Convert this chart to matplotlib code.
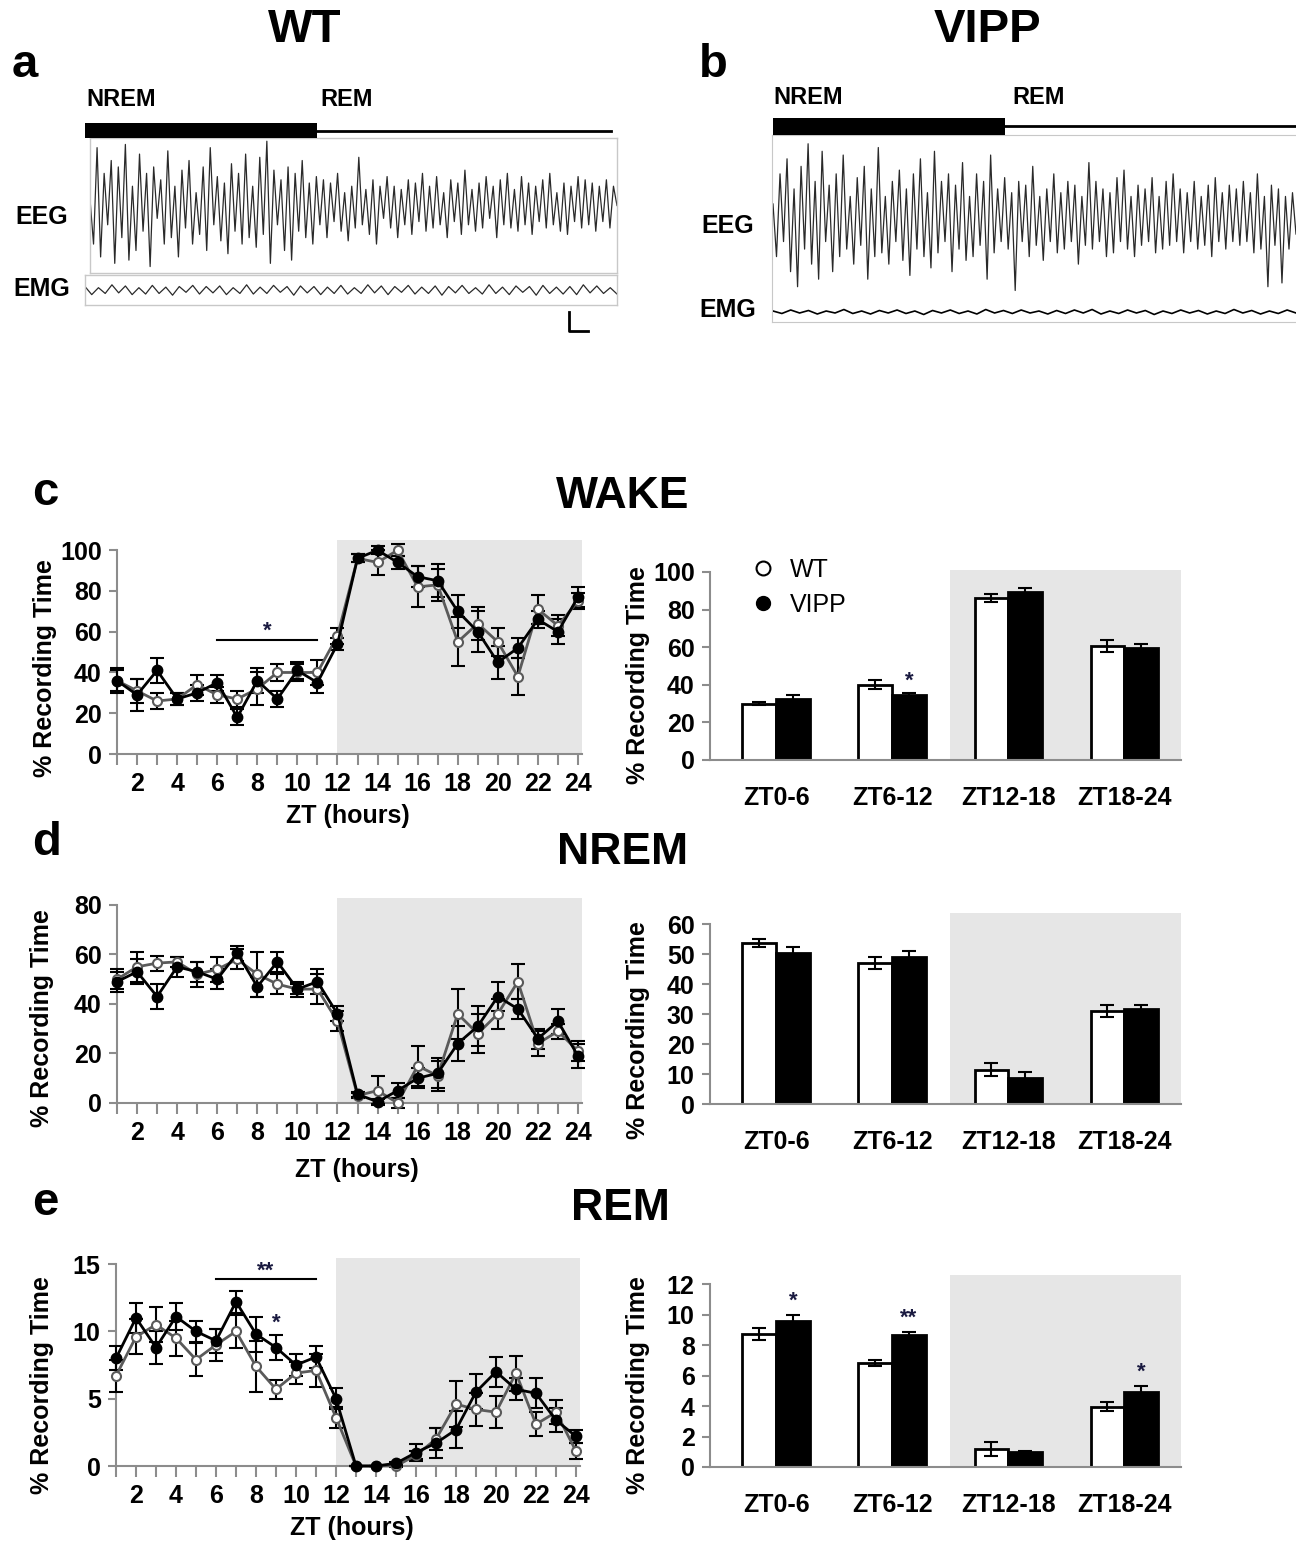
import numpy as np
import matplotlib.pyplot as plt
from matplotlib.lines import Line2D
from matplotlib.patches import Rectangle

plt.rcParams['font.family'] = ['Liberation Sans', 'DejaVu Sans']
plt.rcParams['font.weight'] = 'bold'

W, H = 1296, 1545

# ---------------- data ----------------
zt = list(range(1, 25))
zt_labels = [str(h) if h % 2 == 0 else '' for h in zt]
blocks = ['ZT0-6', 'ZT6-12', 'ZT12-18', 'ZT18-24']

# WAKE (% recording time), hourly
wake_wt = [36, 31, 26, 27, 34, 29, 27, 32, 40, 40, 40, 58, 96, 94, 100, 82, 83, 55, 64, 55, 38, 71, 63, 75]
wake_wt_err = [5, 6, 4, 3, 5, 4, 4, 8, 4, 4, 6, 4, 2, 6, 3, 10, 8, 12, 8, 7, 9, 7, 5, 4]
wake_vipp = [36, 29, 41, 27, 30, 35, 18, 36, 27, 41, 35, 54, 96, 100, 94, 87, 85, 70, 60, 45, 52, 66, 60, 77]
wake_vipp_err = [6, 8, 6, 3, 4, 4, 4, 6, 4, 4, 5, 3, 2, 2, 3, 5, 8, 8, 10, 8, 5, 4, 6, 5]

# NREM
nrem_wt = [50, 55, 56.5, 57, 52, 54, 58, 52, 48, 46, 46, 33, 3, 5, 0, 15, 11, 36, 28, 36, 49, 24, 29, 21]
nrem_wt_err = [4, 6, 3, 2, 5, 5, 4, 9, 4, 2, 6, 4, 1, 6, 2, 8, 6, 10, 8, 6, 7, 5, 3, 4]
nrem_vipp = [49, 53, 43, 55, 53, 50, 60.5, 47, 57, 46, 49, 36, 3.5, 0.5, 5, 10, 12, 24, 31, 43, 38, 26, 33, 19]
nrem_vipp_err = [4, 5, 5, 4, 4, 4, 3, 4, 4, 3, 5, 3, 1, 1, 3, 4, 6, 7, 8, 6, 4, 4, 5, 5]

# REM
rem_wt = [6.7, 9.6, 10.5, 9.5, 7.9, 9.0, 10.0, 7.4, 5.7, 6.9, 7.1, 3.6, 0, 0, 0, 0.8, 2.0, 4.6, 4.2, 4.0, 6.9, 3.1, 4.0, 1.1]
rem_wt_err = [1.2, 1.3, 1.3, 1.3, 1.2, 1.2, 1.2, 1.9, 0.7, 0.8, 1.2, 0.8, 0, 0, 0.1, 0.3, 0.8, 1.7, 1.2, 1.2, 1.3, 0.9, 0.9, 0.6]
rem_vipp = [8.0, 11.0, 8.8, 11.1, 10.0, 9.3, 12.2, 9.8, 8.8, 7.5, 8.1, 5.0, 0, 0, 0.2, 1.0, 1.7, 2.7, 5.5, 7.0, 5.7, 5.4, 3.4, 2.2]
rem_vipp_err = [0.9, 1.1, 1.2, 1.0, 0.8, 0.9, 0.8, 1.3, 0.9, 0.8, 0.8, 0.8, 0, 0, 0.1, 0.6, 1.1, 1.4, 1.3, 1.1, 0.8, 1.1, 0.9, 0.5]

# 6-h blocks
wake_blk_wt = [30, 40, 86, 60.6]
wake_blk_wt_err = [1, 2.5, 2, 3]
wake_blk_vipp = [32.5, 34.8, 89.3, 59.5]
wake_blk_vipp_err = [2, 0.6, 2, 2]

nrem_blk_wt = [53.7, 46.9, 11.5, 30.9]
nrem_blk_wt_err = [1.2, 2, 2.2, 2]
nrem_blk_vipp = [50.5, 48.9, 8.8, 31.8]
nrem_blk_vipp_err = [1.8, 2, 2, 1.2]

rem_blk_wt = [8.75, 6.8, 1.2, 3.96]
rem_blk_wt_err = [0.4, 0.2, 0.45, 0.3]
rem_blk_vipp = [9.58, 8.63, 0.97, 4.93]
rem_blk_vipp_err = [0.4, 0.25, 0.1, 0.4]

# example traces (estimated, normalised amplitude)
eeg_wt = [0.1, -0.6, 0.9, -0.8, 0.5, -0.3, 0.7, -0.9, 0.6, -0.5, 0.95, -0.85, 0.3, -0.7, 0.8, -0.4,
          0.5, -0.95, 0.6, -0.2, 0.4, -0.6, 0.85, -0.5, 0.3, -0.8, 0.55, -0.35, 0.7, -0.6, 0.2, -0.45,
          0.6, -0.7, 0.9, -0.3, 0.45, -0.55, 0.35, -0.75, 0.65, -0.4, 0.5, -0.6, 0.8, -0.5, 0.3, -0.65,
          0.75, -0.45, 1.0, -0.9, 0.55, -0.3, 0.4, -0.7, 0.6, -0.85, 0.5, -0.4, 0.7, -0.5, 0.35, -0.6, 0.45,
          -0.3, 0.4, -0.5, 0.35, -0.25, 0.5, -0.4, 0.2, -0.55, 0.3, -0.35, 0.75, -0.3, 0.25, -0.45, 0.4,
          -0.6, 0.3, -0.2, 0.45, -0.35, 0.3, -0.5, 0.25, -0.3, 0.4, -0.45, 0.35, -0.25, 0.5, -0.4, 0.3,
          -0.35, 0.45, -0.3, 0.2, -0.5, 0.4, -0.25, 0.35, -0.45, 0.55, -0.3, 0.25, -0.4, 0.35, -0.35, 0.45,
          -0.2, 0.3, -0.5, 0.4, -0.3, 0.5, -0.35, 0.25, -0.4, 0.45, -0.3, 0.35, -0.45, 0.3, -0.25, 0.4,
          -0.35, 0.5, -0.3, 0.2, -0.4, 0.35, -0.45, 0.3, -0.25, 0.45, -0.35, 0.4, -0.3, 0.35, -0.4, 0.3,
          -0.25, 0.4, -0.35, 0.3, 0.0]
emg_wt = [0.3, -0.4, 0.2, -0.3, 0.45, -0.25, 0.35, -0.4, 0.2, -0.35, 0.4, -0.3, 0.25, -0.45, 0.3, -0.2,
          0.4, -0.35, 0.3, -0.25, 0.35, -0.4, 0.2, -0.3, 0.45, -0.35, 0.25, -0.3, 0.4, -0.2, 0.3, -0.45,
          0.35, -0.25, 0.3, -0.4, 0.25, -0.3, 0.4, -0.35, 0.2, -0.3, 0.45, -0.25, 0.35, -0.4, 0.3, -0.2,
          0.4, -0.35, 0.25, -0.3, 0.35, -0.45, 0.3, -0.25, 0.4, -0.3, 0.2, -0.35, 0.45, -0.3, 0.25, -0.4,
          0.35, -0.2, 0.3, -0.45, 0.4, -0.3, 0.25, -0.35, 0.3, -0.4, 0.45, -0.25, 0.35, -0.3, 0.2, -0.35]
eeg_vipp = [0.2, -0.5, 0.6, -0.3, 0.8, -0.7, 0.4, -0.9, 0.7, -0.4, 1.0, -0.6, 0.5, -0.8, 0.9, -0.3,
            0.45, -0.7, 0.6, -0.5, 0.85, -0.4, 0.3, -0.6, 0.55, -0.35, 0.7, -0.8, 0.4, -0.5, 0.95, -0.45,
            0.3, -0.6, 0.5, -0.3, 0.65, -0.55, 0.4, -0.75, 0.6, -0.4, 0.8, -0.5, 0.35, -0.65, 0.9, -0.45,
            0.5, -0.3, 0.6, -0.7, 0.45, -0.4, 0.75, -0.55, 0.3, -0.5, 0.6, -0.35, 0.5, -0.8, 0.85, -0.45, 0.4, -0.3,
            0.55, -0.4, 0.35, -0.95, 0.5, -0.3, 0.45, -0.5, 0.7, -0.35, 0.3, -0.55, 0.4, -0.3, 0.6, -0.45,
            0.35, -0.4, 0.5, -0.3, 0.45, -0.6, 0.3, -0.35, 0.75, -0.4, 0.5, -0.3, 0.4, -0.5, 0.35, -0.45,
            0.55, -0.3, 0.65, -0.4, 0.3, -0.5, 0.45, -0.35, 0.4, -0.3, 0.55, -0.45, 0.3, -0.4, 0.5, -0.35,
            0.6, -0.3, 0.4, -0.45, 0.35, -0.3, 0.5, -0.4, 0.3, -0.35, 0.45, -0.5, 0.55, -0.3, 0.35, -0.4,
            0.45, -0.3, 0.4, -0.35, 0.5, -0.3, 0.35, -0.45, 0.6, -0.4, 0.3, -0.9, 0.45, -0.35, 0.4, -0.85,
            0.3, -0.4, 0.35, -0.2]
emg_vipp = [0.1, -0.15, 0.2, -0.1, 0.15, -0.2, 0.1, -0.1, 0.25, -0.15, 0.1, -0.2, 0.15, -0.1, 0.2, -0.15,
            0.1, -0.25, 0.15, -0.1, 0.2, -0.15, 0.1, -0.2, 0.25, -0.1, 0.15, -0.15, 0.2, -0.1, 0.1, -0.2,
            0.15, -0.15, 0.2, -0.1, 0.25, -0.2, 0.1, -0.15, 0.2, -0.1, 0.15, -0.25, 0.1, -0.15, 0.2, -0.1,
            0.15, -0.2, 0.1, -0.15, 0.25, -0.1, 0.15, -0.2, 0.1, -0.15, 0.2, -0.1]

# ---------------- figure ----------------
fig = plt.figure(figsize=(W / 100, H / 100), dpi=100)
ax0 = fig.add_axes([0, 0, 1, 1], zorder=10)
ax0.set_xlim(0, W)
ax0.set_ylim(H, 0)
ax0.axis('off')


def box(l, t, r, b):
    return [l / W, 1 - b / H, (r - l) / W, (b - t) / H]


def txt(x, y, s, size, **kw):
    ax0.text(x, y, s, fontsize=size, fontweight='bold', ha='center', va='center', **kw)


SPINE = '#8c8c8c'
SHADE = '#e6e6e6'
TICK = 18


def style_axes(ax, ytop_tick):
    for s in ['top', 'right']:
        ax.spines[s].set_visible(False)
    for s in ['left', 'bottom']:
        ax.spines[s].set_color(SPINE)
        ax.spines[s].set_linewidth(1.5)
    ax.spines['left'].set_bounds(0, ytop_tick)
    ax.tick_params(axis='y', colors=SPINE, length=6, width=1.5, labelsize=TICK, labelcolor='black', pad=5)
    ax.set_facecolor('none')


def line_panel(rect, wt, wt_err, vipp, vipp_err, ytop, yticks):
    ax = fig.add_axes(box(*rect))
    ax.axvspan(12, 24.2, color=SHADE, zorder=0, lw=0)
    for y, e, lc, fc, ms in [(wt, wt_err, '#5a5a5a', 'white', 6.5), (vipp, vipp_err, 'black', 'black', 7)]:
        cont = ax.errorbar(zt, y, yerr=e, color=lc, lw=2, marker='o', ms=ms, mfc=fc, mec=lc, mew=1.5,
                           ecolor='black', elinewidth=1.5, capsize=5, capthick=1.5, zorder=3)
        for ch in cont.get_children():
            ch.set_clip_on(False)
    ax.set_xlim(1, 24.2)
    ax.set_ylim(0, ytop)
    ax.set_yticks(yticks)
    ax.set_xticks(zt)
    ax.set_xticklabels(zt_labels)
    style_axes(ax, yticks[-1])
    ax.tick_params(axis='x', colors=SPINE, length=8, width=1.5, labelsize=TICK, labelcolor='black', pad=5)
    return ax


def bar_panel(rect, wt, wt_err, vipp, vipp_err, ytop, yticks):
    ax = fig.add_axes(box(*rect))
    x = np.arange(len(blocks))
    w = 0.29
    ax.axvspan(1.5, 3.49, color=SHADE, zorder=0, lw=0)
    ekw = dict(elinewidth=1.5, capthick=1.5, ecolor='black')
    ax.bar(x - w / 2, wt, w, yerr=wt_err, color='white', edgecolor='black', lw=2, capsize=5,
           error_kw=ekw, zorder=2)
    ax.bar(x + w / 2, vipp, w, yerr=vipp_err, color='black', edgecolor='black', lw=2, capsize=5,
           error_kw=ekw, zorder=2)
    ax.set_xlim(-0.57, 3.49)
    ax.set_ylim(0, ytop)
    ax.set_yticks(yticks)
    ax.set_xticks(x)
    ax.set_xticklabels(blocks)
    style_axes(ax, yticks[-1])
    ax.tick_params(axis='x', length=0, labelsize=TICK, pad=19)
    return ax, x + w / 2


# ---- c WAKE ----
axc = line_panel((117, 540, 582, 754), wake_wt, wake_wt_err, wake_vipp, wake_vipp_err, 105, [0, 20, 40, 60, 80, 100])
axc.plot([6, 11], [56, 56], color='black', lw=1.5)
axc.text(8.5, 60, '*', fontsize=16, ha='center', va='center', color='#1a1a40')
axcb, xv = bar_panel((710, 570, 1181, 760), wake_blk_wt, wake_blk_wt_err, wake_blk_vipp, wake_blk_vipp_err,
                     101, [0, 20, 40, 60, 80, 100])
axcb.text(xv[1], 42, '*', fontsize=16, ha='center', va='center', color='#1a1a40')
hnd = [Line2D([], [], ls='none', marker='o', ms=10, mfc='white', mec='black', mew=1.5),
       Line2D([], [], ls='none', marker='o', ms=10, mfc='black', mec='black')]
leg = axcb.legend(hnd, ['WT', 'VIPP'], loc='upper left', bbox_to_anchor=(0.085, 1.065), frameon=False,
                  prop={'size': 18, 'weight': 'normal'}, handlelength=1.0, handletextpad=0.6,
                  labelspacing=0.45, borderpad=0, borderaxespad=0)

# ---- d NREM ----
line_panel((117, 898, 582, 1103), nrem_wt, nrem_wt_err, nrem_vipp, nrem_vipp_err, 82.8, [0, 20, 40, 60, 80])
bar_panel((710, 913, 1181, 1104), nrem_blk_wt, nrem_blk_wt_err, nrem_blk_vipp, nrem_blk_vipp_err,
          63.7, [0, 10, 20, 30, 40, 50, 60])

# ---- e REM ----
axe = line_panel((116, 1258, 580, 1466), rem_wt, rem_wt_err, rem_vipp, rem_vipp_err, 15.45, [0, 5, 10, 15])
axe.plot([6, 11], [13.9, 13.9], color='black', lw=1.5)
axe.text(8.5, 14.5, '**', fontsize=16, ha='center', va='center', color='#1a1a40')
axe.text(9, 10.6, '*', fontsize=16, ha='center', va='center', color='#1a1a40')
axeb, xv = bar_panel((710, 1275, 1181, 1467), rem_blk_wt, rem_blk_wt_err, rem_blk_vipp, rem_blk_vipp_err,
                     12.6, [0, 2, 4, 6, 8, 10, 12])
for i, s in [(0, '*'), (1, '**'), (3, '*')]:
    axeb.text(xv[i], rem_blk_vipp[i] + rem_blk_vipp_err[i] + 0.9, s, fontsize=16, ha='center', va='center',
              color='#1a1a40')

# ---- panel texts ----
txt(623, 497, 'WAKE', 32)
txt(623, 853, 'NREM', 32)
txt(620, 1208, 'REM', 32)
txt(45, 493, 'c', 34)
txt(47, 843, 'd', 34)
txt(45, 1203, 'e', 34)
for (x, y) in [(45, 668), (638, 675), (42, 1018), (638, 1030), (42, 1385), (638, 1385)]:
    ax0.text(x, y, '% Recording Time', fontsize=18, fontweight='bold', rotation=90, ha='center', va='center')
for (x, y) in [(348, 816), (357, 1170), (352, 1528)]:
    txt(x, y, 'ZT (hours)', 18)

# ---- a / b example traces ----
txt(305, 30, 'WT', 34)
txt(987, 30, 'VIPP', 34)
txt(25, 65, 'a', 34)
txt(713, 65, 'b', 34)
ax0.text(86, 100, 'NREM', fontsize=17, fontweight='bold', ha='left', va='center')
ax0.text(320, 100, 'REM', fontsize=17, fontweight='bold', ha='left', va='center')
ax0.text(773, 98, 'NREM', fontsize=17, fontweight='bold', ha='left', va='center')
ax0.text(1012, 98, 'REM', fontsize=17, fontweight='bold', ha='left', va='center')
txt(42, 217, 'EEG', 18)
txt(42, 289, 'EMG', 18)
txt(728, 226, 'EEG', 18)
txt(728, 310, 'EMG', 18)

# hypnogram bars
ax0.add_patch(Rectangle((85, 123), 232, 15, color='black', lw=0))
ax0.plot([317, 611], [131, 131], color='black', lw=2)
ax0.add_patch(Rectangle((773, 118), 232, 17, color='black', lw=0))
ax0.plot([1005, 1296], [126, 126], color='black', lw=2)
# scale bar
ax0.plot([569, 569, 588], [312, 331, 331], color='black', lw=2)


def trace_axes(rect, vals, lim, frame=True, lw=0.9, color='#2a2a2a'):
    ax = fig.add_axes(box(*rect))
    ax.plot(np.arange(len(vals)), vals, color=color, lw=lw)
    ax.set_xlim(0, len(vals) - 1)
    ax.set_ylim(-lim, lim)
    ax.set_xticks([])
    ax.set_yticks([])
    for s in ax.spines.values():
        s.set_visible(frame)
        s.set_color('#c8c8c8')
        s.set_linewidth(1)
    ax.set_facecolor('none')
    return ax


trace_axes((90, 138, 617, 273), eeg_wt, 1.05)
trace_axes((85, 275, 617, 305), emg_wt, 1.3)
frame_b = fig.add_axes(box(772, 135, 1296, 322))
frame_b.set_xticks([])
frame_b.set_yticks([])
for s in frame_b.spines.values():
    s.set_color('#c8c8c8')
frame_b.spines['right'].set_visible(False)
trace_axes((773, 140, 1296, 298), eeg_vipp, 1.05, frame=False)
trace_axes((773, 302, 1296, 322), emg_vipp, 1.0, frame=False, lw=1.2, color='black')

fig.savefig('out.png', dpi=100)
